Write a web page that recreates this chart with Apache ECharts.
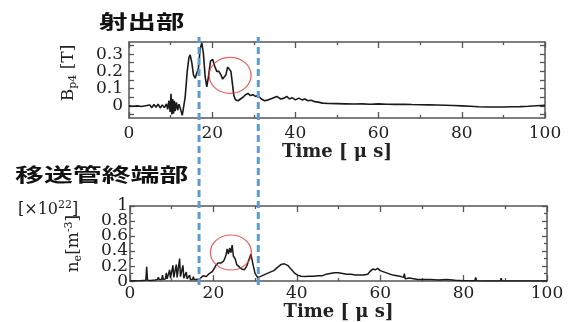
<!DOCTYPE html>
<html><head><meta charset="utf-8">
<script src="https://cdn.jsdelivr.net/npm/echarts@6/dist/echarts.min.js"></script>
<style>html,body{margin:0;padding:0;background:#fff}#c{width:573px;height:322px}</style>
</head><body><div id="c"></div>
<script>
// ---- data ----
const titleTop = '射出部';
const titleBottom = '移送管終端部';
const bTickLabels = [0, 0.1, 0.2, 0.3];
const bMinorTicks = [-0.05, 0, 0.05, 0.1, 0.15, 0.2, 0.25, 0.3, 0.35];
const nLabelsA = [0, 0.4, 0.8];
const nLabelsB = [0.2, 0.6, 1];
const markTimes = [16.8, 31.0];            // blue dashed lines (μs)
const circleB = [24.3, 0.177];             // red circle, upper panel
const circleN = [24.2, 0.38];              // red circle, lower panel

const tB = [
 0, 1, 2, 3, 4, 5, 5.5, 6, 6.5, 7,
 7.5, 8, 8.5, 9, 9.3, 9.6, 9.9, 10.1, 10.3, 10.5,
 10.7, 10.9, 11.1, 11.4, 11.7, 12, 12.4, 12.8, 13.1, 13.5,
 14, 14.4, 14.7, 15.1, 15.5, 15.9, 16.3, 16.7, 17.1, 17.5,
 17.9, 18.3, 18.7, 19.1, 19.6, 20.1, 20.6, 21.1, 21.6, 22.1,
 22.5, 22.9, 23.3, 23.7, 24.1, 24.5, 24.9, 25.2, 25.6, 26.2,
 26.8, 27.4, 28, 28.6, 29.2, 29.8, 30.4, 31, 31.8, 32.6,
 33.5, 34.5, 35.5, 36.5, 37.3, 37.9, 38.6, 39.2, 40, 40.8,
 41.6, 42.3, 43, 43.8, 44.6, 45.5, 46.5, 48, 50, 52,
 54, 56, 58, 60, 62, 64, 66, 68, 70, 72,
 74, 76, 78, 80, 82, 84, 86, 88, 90, 92,
 94, 96, 98, 100];
const bVals = [
 0, -0.002, 0, -0.003, 0.001, 0.005, -0.01, 0.008, -0.008, 0.01,
 -0.012, 0.006, -0.01, 0.012, -0.02, 0.03, -0.035, 0.07, -0.05, 0.04,
 -0.045, 0.03, -0.03, 0.02, -0.025, 0.01, -0.02, -0.055, -0.06, 0.05,
 0.2, 0.28, 0.295, 0.25, 0.18, 0.16, 0.15, 0.22, 0.33, 0.365,
 0.3, 0.17, 0.11, 0.17, 0.26, 0.27, 0.23, 0.2, 0.2, 0.18,
 0.155, 0.15, 0.18, 0.225, 0.235, 0.2, 0.12, 0.06, 0.035, 0.03,
 0.04, 0.05, 0.065, 0.072, 0.06, 0.065, 0.055, 0.06, 0.04, 0.03,
 0.035, 0.045, 0.055, 0.04, 0.045, 0.055, 0.04, 0.048, 0.035, 0.045,
 0.035, 0.04, 0.03, 0.033, 0.025, 0.022, 0.016, 0.014, 0.013, 0.012,
 0.011, 0.012, 0.01, 0.012, 0.01, 0.009, 0.01, 0.008, 0.007, 0.006,
 0.005, 0.004, 0.002, 0, -0.002, -0.005, -0.006, -0.006, -0.006, -0.005,
 -0.004, -0.002, 0.001, 0.003];

const tN = [
 0, 1, 2, 3, 3.8, 4, 4.2, 5, 6, 6.6,
 6.8, 7, 7.6, 7.8, 8, 8.5, 8.7, 8.9, 9.3, 9.5,
 9.7, 10.1, 10.3, 10.5, 10.9, 11.1, 11.3, 11.7, 11.9, 12.1,
 12.5, 12.7, 12.9, 13.3, 13.5, 13.7, 14.1, 14.3, 14.5, 15,
 15.2, 15.4, 16, 16.8, 17.5, 18.3, 19, 19.8, 20.5, 21.1,
 21.8, 22.5, 23, 23.3, 23.6, 23.9, 24.2, 24.5, 24.8, 25.2,
 25.6, 26.2, 26.8, 27.4, 28, 28.5, 29, 29.5, 30, 30.6,
 31.2, 32, 32.8, 33.6, 34.5, 35.3, 36.2, 37, 37.8, 38.6,
 39.4, 40.2, 41, 42, 43, 44, 45, 46, 47, 48,
 49, 50, 51, 52, 53, 54, 55, 56, 57, 57.6,
 58.2, 58.8, 59.4, 60, 61, 62, 63, 64, 65, 65.6,
 65.8, 66, 67, 68, 69, 70, 72, 74, 76, 78,
 80, 82, 82.7, 82.9, 83.1, 85, 87, 88.8, 89, 89.2,
 92, 95, 98, 100];
const nVals = [
 0, 0.005, 0.003, 0.008, 0.01, 0.19, 0.01, 0.008, 0.015, 0.02,
 0.05, 0.02, 0.02, 0.08, 0.02, 0.03, 0.11, 0.03, 0.04, 0.15,
 0.04, 0.05, 0.21, 0.05, 0.06, 0.22, 0.05, 0.07, 0.3, 0.06,
 0.05, 0.21, 0.04, 0.04, 0.12, 0.03, 0.03, 0.08, 0.02, 0.02,
 0.06, 0.02, 0.02, 0.03, 0.07, 0.06, 0.1, 0.13, 0.2, 0.24,
 0.24, 0.27, 0.34, 0.43, 0.36, 0.44, 0.38, 0.48, 0.33, 0.3,
 0.22, 0.19, 0.16, 0.15, 0.2, 0.28, 0.36, 0.22, 0.1, 0.05,
 0.06, 0.08, 0.1, 0.12, 0.14, 0.18, 0.22, 0.23, 0.21, 0.16,
 0.11, 0.08, 0.065, 0.06, 0.065, 0.065, 0.07, 0.07, 0.09, 0.1,
 0.11, 0.11, 0.1, 0.09, 0.09, 0.08, 0.08, 0.08, 0.09, 0.13,
 0.16, 0.15, 0.17, 0.14, 0.12, 0.1, 0.08, 0.07, 0.06, 0.05,
 0.1, 0.03, 0.04, 0.03, 0.02, 0.02, 0.02, 0.015, 0.02, 0.01,
 0.005, 0.004, 0.003, 0.05, 0.003, 0, 0, 0, 0.04, 0,
 0, 0.002, 0, 0];

// ---- chart ----
const SERIF = '"DejaVu Serif", "Liberation Serif", serif';
const CJK = '"Noto Sans CJK JP", "Noto Sans CJK SC", sans-serif';
const AX = '#555';
const frame = {show: true, onZero: false, lineStyle: {color: AX, width: 1.5}};
const tick = (len, extra) => Object.assign({show: true, inside: true, length: len, lineStyle: {color: AX, width: 1.3}}, extra || {});
const minor = {show: true, splitNumber: 2, length: 3, lineStyle: {color: AX, width: 1.3}};
const lblStyle = {fontFamily: SERIF, fontSize: 17, color: '#222', showMinLabel: true, showMaxLabel: true, hideOverlap: false};

function xAxisPair(grid) {
  const base = {type: 'value', gridIndex: grid, min: 0, max: 100, interval: 20,
    axisLine: frame, splitLine: {show: false}, axisTick: tick(6), minorTick: minor};
  return [
    Object.assign({}, base, {position: 'bottom',
      axisLabel: Object.assign({margin: grid === 0 ? 7 : 4}, lblStyle),
      name: 'Time [ μ s]', nameLocation: 'middle', nameGap: grid === 0 ? 20 : 18,
      nameTextStyle: {fontFamily: SERIF, fontSize: 18, fontWeight: 'bold', color: '#222'}}),
    Object.assign({}, base, {position: 'top', axisLabel: {show: false}})
  ];
}

const zip = (xs, ys) => xs.map((x, i) => [x, ys[i]]);

const option = {
  animation: false,
  backgroundColor: '#fff',
  grid: [
    {left: 129, right: 28, top: 42, height: 76},
    {left: 130, right: 26, top: 206, height: 77},
    {left: 129, right: 27, top: 37, height: 248}
  ],
  xAxis: [
    ...xAxisPair(0),
    ...xAxisPair(1),
    {type: 'value', gridIndex: 2, min: 0, max: 100, show: false}
  ],
  yAxis: [
    {type: 'value', gridIndex: 0, min: -0.07, max: 0.37, position: 'left',
     axisLine: frame, splitLine: {show: false},
     axisTick: tick(5, {customValues: bMinorTicks}),
     axisLabel: Object.assign({margin: 6, customValues: bTickLabels}, lblStyle),
     name: '{m|B}{s|p4}{m| [T]}', nameLocation: 'middle', nameGap: 50, nameRotate: 90,
     nameTextStyle: {padding: [0, 0, 0, 14], rich: {
       m: {fontFamily: SERIF, fontSize: 17, color: '#222', lineHeight: 20},
       s: {fontFamily: SERIF, fontSize: 11, color: '#222', verticalAlign: 'bottom', lineHeight: 20, padding: [6, 0, 0, 0]}}}},
    {type: 'value', gridIndex: 0, min: -0.07, max: 0.37, position: 'right',
     axisLine: frame, splitLine: {show: false}, axisLabel: {show: false},
     axisTick: tick(5, {customValues: bMinorTicks})},
    {type: 'value', gridIndex: 1, min: 0, max: 1, interval: 0.2, position: 'left',
     axisLine: frame, splitLine: {show: false},
     axisTick: tick(5), minorTick: minor,
     axisLabel: Object.assign({}, lblStyle, {margin: 2, customValues: nLabelsA}),
     name: '{m|n}{s|e}{m|[m}{p|-3}{m|]}', nameLocation: 'middle', nameGap: 46, nameRotate: 90,
     nameTextStyle: {rich: {
       m: {fontFamily: SERIF, fontSize: 17, color: '#222', lineHeight: 20},
       s: {fontFamily: SERIF, fontSize: 11, color: '#222', verticalAlign: 'bottom', lineHeight: 20, padding: [6, 0, 0, 0]},
       p: {fontFamily: SERIF, fontSize: 11, color: '#222', verticalAlign: 'top', lineHeight: 20, padding: [0, 0, 6, 0]}}}},
    {type: 'value', gridIndex: 1, min: 0, max: 1, interval: 0.2, position: 'right',
     axisLine: frame, splitLine: {show: false}, axisLabel: {show: false},
     axisTick: tick(5), minorTick: minor},
    {type: 'value', gridIndex: 2, min: 0, max: 1, show: false},
    {type: 'value', gridIndex: 1, min: 0, max: 1, position: 'left', offset: 0,
     axisLine: {show: false}, axisTick: {show: false}, splitLine: {show: false},
     axisLabel: Object.assign({}, lblStyle, {margin: 2, customValues: nLabelsB})}
  ],
  graphic: [
    {type: 'text', x: 99, y: 22, scaleX: 1.5, style: {text: titleTop, font: 'bold 19px ' + CJK, fill: '#111', textVerticalAlign: 'middle'}},
    {type: 'text', x: 15, y: 175, scaleX: 1.52, style: {text: titleBottom, font: 'bold 19px ' + CJK, fill: '#111', textVerticalAlign: 'middle'}},
    {type: 'text', x: 18, y: 210, style: {text: '{m|[×10}{p|22}{m|]}', textVerticalAlign: 'middle',
      rich: {m: {fontFamily: SERIF, fontSize: 16, fill: '#222', lineHeight: 20},
             p: {fontFamily: SERIF, fontSize: 11, fill: '#222', verticalAlign: 'top', lineHeight: 20}}}}
  ],
  series: [
    {type: 'line', xAxisIndex: 0, yAxisIndex: 0, data: zip(tB, bVals), showSymbol: false,
     lineStyle: {color: '#1a1a1a', width: 1.6}, z: 3},
    {type: 'line', xAxisIndex: 2, yAxisIndex: 2, data: zip(tN, nVals), showSymbol: false,
     lineStyle: {color: '#1a1a1a', width: 1.5}, z: 3},
    ...markTimes.map(t => ({type: 'line', xAxisIndex: 4, yAxisIndex: 4, data: [[t, 0], [t, 1]],
      showSymbol: false, lineStyle: {color: '#5b9bd5', width: 3, type: [7, 4]}, z: 5})),
    {type: 'scatter', xAxisIndex: 0, yAxisIndex: 0, data: [circleB], symbol: 'circle', symbolSize: [42, 36],
     itemStyle: {color: 'rgba(0,0,0,0)', borderColor: '#e0403a', borderWidth: 1.2}, z: 6},
    {type: 'scatter', xAxisIndex: 2, yAxisIndex: 2, data: [circleN], symbol: 'circle', symbolSize: [41, 35],
     itemStyle: {color: 'rgba(0,0,0,0)', borderColor: '#e0403a', borderWidth: 1.2}, z: 6}
  ]
};
const chart = echarts.init(document.getElementById('c'), null, {renderer: 'canvas'});
chart.setOption(option);
</script></body></html>
